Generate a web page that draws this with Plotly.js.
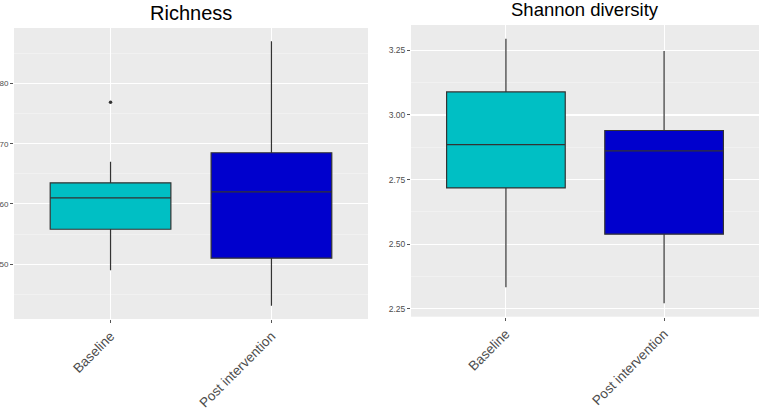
<!DOCTYPE html>
<html>
<head>
<meta charset="utf-8">
<script src="https://cdn.plot.ly/plotly-3.0.1.min.js"></script>
<style>html,body{margin:0;padding:0;background:#fff;}#chart{width:760px;height:409px;}</style>
</head>
<body>
<div id="chart"></div>
<script>
// Data
var categories = ['Baseline', 'Post intervention'];
var fillColors = ['#00BFC4', '#0000CD'];

var richLower  = [49, 43.1];
var richQ1     = [55.8, 51.0];
var richMedian = [61.0, 62.0];
var richQ3     = [63.5, 68.5];
var richUpper  = [67.0, 87.0];
var richOutlierCat = ['Baseline'];
var richOutlierVal = [76.9];

var shanLower  = [2.334, 2.272];
var shanQ1     = [2.718, 2.539];
var shanMedian = [2.885, 2.861];
var shanQ3     = [3.089, 2.940];
var shanUpper  = [3.295, 3.247];

var richTicks = [50, 60, 70, 80];
var shanTicks = [2.25, 2.50, 2.75, 3.00, 3.25];
var shanTickText = ['2.25', '2.50', '2.75', '3.00', '3.25'];

var traces = [];
function addBoxes(lower, q1, med, q3, upper, xa, ya) {
  for (var i = 0; i < categories.length; i++) {
    traces.push({
      type: 'box',
      x: [categories[i]],
      lowerfence: [lower[i]],
      q1: [q1[i]],
      median: [med[i]],
      q3: [q3[i]],
      upperfence: [upper[i]],
      fillcolor: fillColors[i],
      line: {color: '#333333', width: 1.2},
      whiskerwidth: 0,
      width: 0.75,
      boxpoints: false,
      xaxis: xa, yaxis: ya,
      hoverinfo: 'skip'
    });
  }
}
addBoxes(richLower, richQ1, richMedian, richQ3, richUpper, 'x', 'y');
traces.push({
  type: 'scatter', mode: 'markers',
  x: richOutlierCat, y: richOutlierVal,
  marker: {color: '#333333', size: 3.5},
  xaxis: 'x', yaxis: 'y', hoverinfo: 'skip'
});
addBoxes(shanLower, shanQ1, shanMedian, shanQ3, shanUpper, 'x2', 'y2');

var tickFontY = {family: 'Liberation Sans, Arial, sans-serif', size: 9, color: '#4d4d4d'};
var tickFontX = {family: 'Liberation Sans, Arial, sans-serif', size: 13.5, color: '#4d4d4d'};

function xAxis(domain, anchor) {
  return {
    domain: domain, anchor: anchor, type: 'category',
    categoryorder: 'array', categoryarray: categories,
    range: [-0.6, 1.6],
    showgrid: true, gridcolor: '#ffffff', gridwidth: 1.1,
    zeroline: false, showline: false,
    ticks: 'outside', ticklen: 3, tickcolor: '#555555', tickwidth: 1,
    tickangle: -45, tickfont: tickFontX, automargin: false, fixedrange: true
  };
}
function yAxis(domain, anchor, range, tickvals, ticktext, minorDtick, fontSize, standoff) {
  return {
    domain: domain, anchor: anchor, range: range,
    tickmode: 'array', tickvals: tickvals, ticktext: ticktext,
    showgrid: true, gridcolor: '#ffffff', gridwidth: 1.1,
    minor: {dtick: minorDtick, tick0: 0, showgrid: true, gridcolor: '#f5f5f5', gridwidth: 0.6, ticks: ''},
    zeroline: false, showline: false,
    ticks: 'outside', ticklen: 3, tickcolor: '#555555', tickwidth: 1,
    ticklabelstandoff: standoff,
    tickfont: Object.assign({}, tickFontY, {size: fontSize}), automargin: false, fixedrange: true
  };
}

var layout = {
  width: 760, height: 409,
  margin: {l: 0, r: 0, t: 0, b: 0},
  paper_bgcolor: '#ffffff',
  plot_bgcolor: '#ebebeb',
  showlegend: false,
  boxmode: 'overlay',
  xaxis: xAxis([0.0184, 0.4842], 'y'),
  yaxis: yAxis([0.220, 0.9315], 'x', [40.9, 89.2], richTicks, richTicks.map(String), 5, 8, -2.5),
  xaxis2: xAxis([0.5408, 0.9987], 'y2'),
  yaxis2: yAxis([0.2257, 0.9389], 'x2', [2.220, 3.348], shanTicks, shanTickText, 0.125, 8.5, 0),
  annotations: [
    {text: 'Richness', xref: 'paper', yref: 'paper', x: 0.2513, y: 0.969, xanchor: 'center', yanchor: 'middle',
     showarrow: false, font: {family: 'Liberation Sans, Arial, sans-serif', size: 20, color: '#000000'}},
    {text: 'Shannon diversity', xref: 'paper', yref: 'paper', x: 0.7697, y: 0.976, xanchor: 'center', yanchor: 'middle',
     showarrow: false, font: {family: 'Liberation Sans, Arial, sans-serif', size: 18.5, color: '#000000'}}
  ]
};

Plotly.newPlot('chart', traces, layout, {displayModeBar: false, staticPlot: true});
</script>
</body>
</html>
